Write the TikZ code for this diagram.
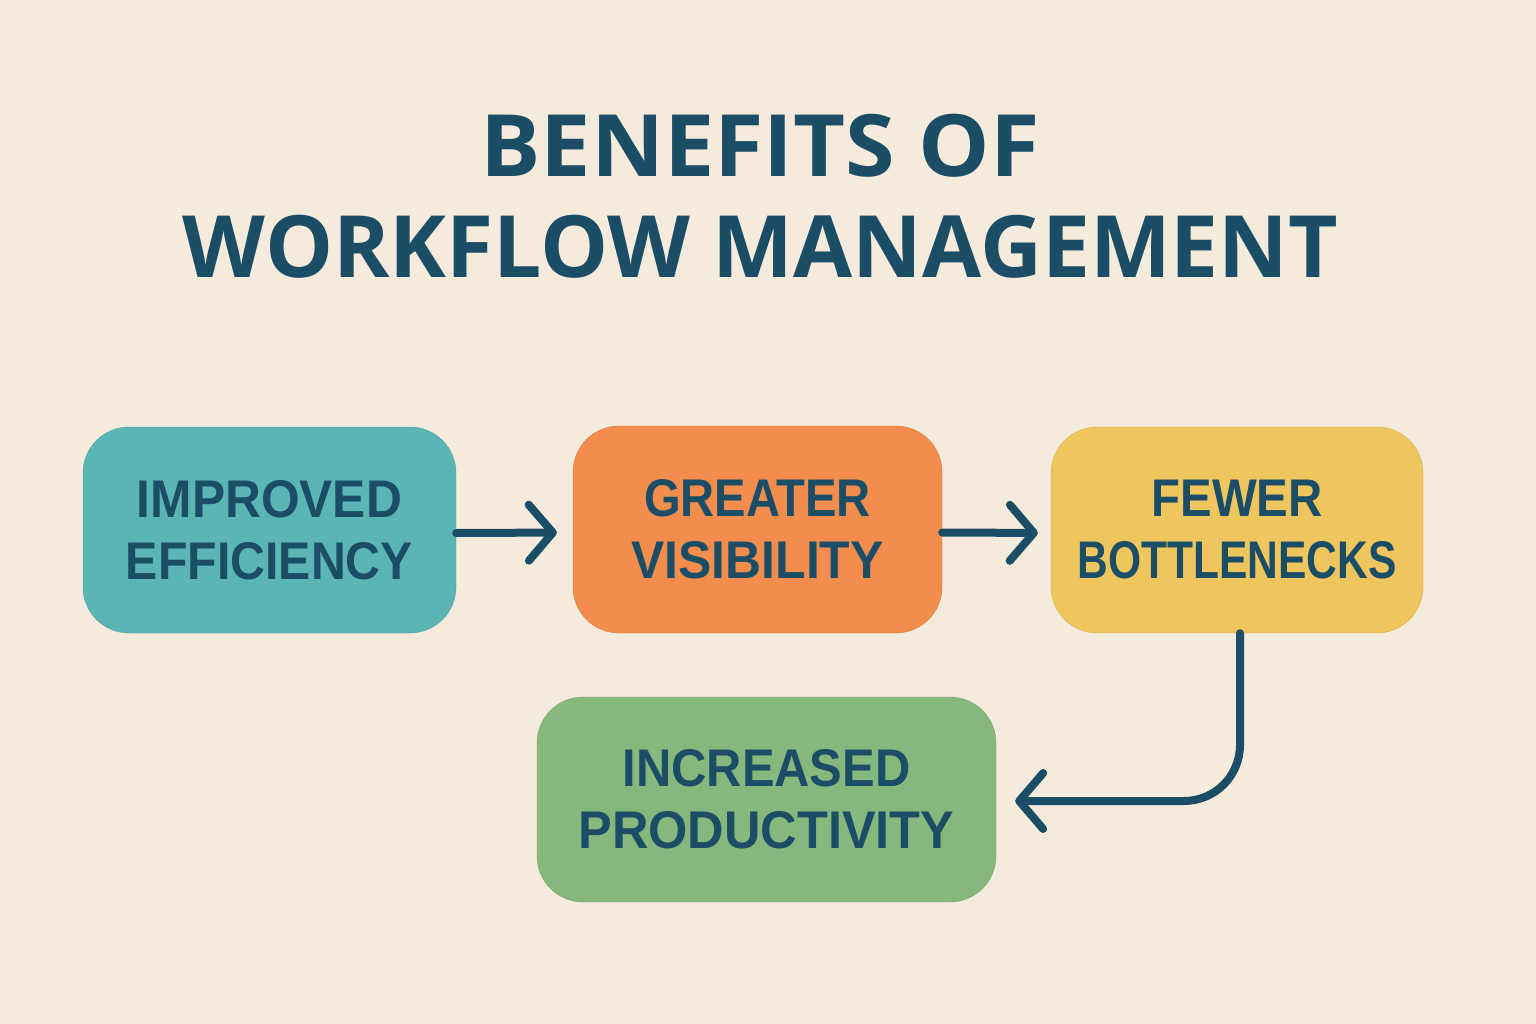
\documentclass[tikz,border=0pt]{standalone}
\usepackage{fontspec}
\setmainfont{Liberation Sans}
\newfontfamily\titlefont{Open Sans}
\usetikzlibrary{arrows.meta}
\definecolor{bgc}{HTML}{F5EBDC}
\definecolor{ink}{HTML}{1B4D66}
\definecolor{tealc}{HTML}{5BB5B4}
\definecolor{orangec}{HTML}{F28D4D}
\definecolor{yellowc}{HTML}{EFC65D}
\definecolor{greenc}{HTML}{86B87E}
\newcommand{\fitw}[2]{\resizebox{#1}{\height}{#2}}
\tikzset{
  card/.style={rounded corners=46pt, inner sep=0pt, align=center, text=ink,
    font=\fontsize{53}{62}\selectfont\bfseries},
  titletext/.style={text=ink, inner sep=0pt, anchor=base,
    font=\titlefont\fontsize{86}{100}\selectfont\bfseries},
  flow/.style={draw=ink, line width=8pt, line cap=round, line join=round,
    -{Straight Barb[length=24pt,width=56pt,line cap=round,line join=round]}},
}
\begin{document}
\begin{tikzpicture}[x=1pt,y=-1pt]
\fill[bgc] (0,0) rectangle (1536,1024);
\useasboundingbox (0,0) rectangle (1536,1024);
\node[titletext] (t1) at (760,177) {\fitw{559pt}{BENEFITS OF}};
\node[titletext] (t2) at (760.5,277) {\fitw{1155pt}{WORKFLOW MANAGEMENT}};
\node[card, fill=tealc, draw=tealc!90!black, minimum width=373pt, minimum height=206pt] (b1) at (269.5,530) {\fitw{265pt}{IMPROVED}\\\fitw{287pt}{EFFICIENCY}};
\node[card, fill=orangec, draw=orangec!90!black, minimum width=369pt, minimum height=207pt] (b2) at (757.5,529.5) {\fitw{227pt}{GREATER}\\\fitw{252pt}{VISIBILITY}};
\node[card, fill=yellowc, draw=yellowc!90!black, minimum width=372pt, minimum height=206pt] (b3) at (1237,530) {\fitw{171pt}{FEWER}\\\fitw{319pt}{BOTTLENECKS}};
\node[card, fill=greenc, draw=greenc!90!black, minimum width=459pt, minimum height=205pt] (b4) at (766.5,799.5) {\fitw{288pt}{INCREASED}\\\fitw{376pt}{PRODUCTIVITY}};
\draw[flow, shorten >=16pt] ([yshift=-3pt]b1.east) -- ([yshift=-3pt]b2.west);
\draw[flow, shorten >=13pt] ([yshift=-3pt]b2.east) -- ([yshift=-3pt]b3.west);
\draw[flow, rounded corners=56pt, shorten >=19pt] ([xshift=3pt]b3.south) |- ([yshift=-1.5pt]b4.east);
\end{tikzpicture}
\end{document}
